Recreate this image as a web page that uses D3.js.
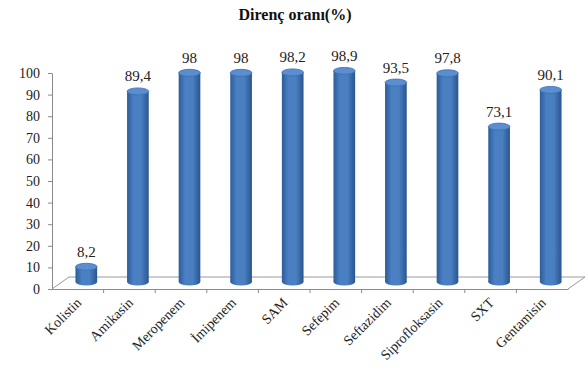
<!DOCTYPE html>
<html>
<head>
<meta charset="utf-8">
<script src="https://cdn.jsdelivr.net/npm/d3@7"></script>
<style>
  body { margin: 0; background: #fff; }
  svg text { font-family: "Liberation Serif", "Times New Roman", serif !important; }
</style>
</head>
<body>
<svg id="chart"></svg>
<script>
const categories = ['Kolistin', 'Amikasin', 'Meropenem', 'İmipenem', 'SAM', 'Sefepim', 'Seftazidim', 'Siprofloksasin', 'SXT', 'Gentamisin'];
const values = [8.2, 89.4, 98, 98, 98.2, 98.9, 93.5, 97.8, 73.1, 90.1];
const valueLabels = ['8,2', '89,4', '98', '98', '98,2', '98,9', '93,5', '97,8', '73,1', '90,1'];
const yTicks = [0, 10, 20, 30, 40, 50, 60, 70, 80, 90, 100];
const title = 'Direnç oranı(%)';

const width = 588, height = 378;
const depth = {dx: 17, dy: -12};

const svg = d3.select('#chart')
    .attr('width', width)
    .attr('height', height);

const xscale = d3.scaleBand()
    .domain(categories)
    .range([52, 568])
    .padding(0);

const yscale = d3.scaleLinear()
    .domain([0, 100])
    .range([289, 73]);

// gradient for the cylinders
const defs = svg.append('defs');
const grad = defs.append('linearGradient')
    .attr('id', 'cyl')
    .attr('x1', '0%').attr('x2', '100%')
    .attr('y1', '0%').attr('y2', '0%');
grad.append('stop').attr('offset', '0%').attr('stop-color', '#2d5c98');
grad.append('stop').attr('offset', '30%').attr('stop-color', '#4a80c4');
grad.append('stop').attr('offset', '65%').attr('stop-color', '#4a7fc0');
grad.append('stop').attr('offset', '100%').attr('stop-color', '#28568f');

// title
svg.append('text')
    .attr('x', 295)
    .attr('y', 20)
    .attr('text-anchor', 'middle')
    .style('font-size', '16px')
    .style('font-weight', 'bold')
    .attr('fill', '#111')
    .text(title);

// floor
const x0 = xscale.range()[0], x1 = xscale.range()[1], y0 = yscale(0);
svg.append('path')
    .attr('d', `M${x0},${y0} L${x0 + depth.dx},${y0 + depth.dy} L${x1 + depth.dx},${y0 + depth.dy} L${x1},${y0}`)
    .attr('fill', 'none')
    .attr('stroke', '#9a9a9a')
    .attr('stroke-width', 1);

// y axis
const yaxis = d3.axisLeft(yscale)
    .tickValues(yTicks)
    .tickSize(4)
    .tickSizeOuter(0);
const yg = svg.append('g')
    .attr('transform', `translate(${x0},0)`)
    .call(yaxis);
yg.select('.domain').attr('stroke', '#8a8a8a');
yg.selectAll('.tick line').attr('stroke', '#8a8a8a');
yg.selectAll('.tick text')
    .attr('x', -12)
    .style('font-size', '14px')
    .attr('fill', '#222');

// x axis
const xaxis = d3.axisBottom(xscale)
    .tickSize(0)
    .tickSizeOuter(0);
const xg = svg.append('g')
    .attr('transform', `translate(0,${y0})`)
    .call(xaxis);
xg.select('.domain').attr('stroke', '#8a8a8a');
xg.selectAll('.tick text')
    .style('font-size', '14px')
    .attr('fill', '#222')
    .attr('text-anchor', 'end')
    .attr('transform', 'translate(1,11) rotate(-45)')
    .attr('dy', '0.35em')
    .attr('y', 0);

// boundary ticks between categories
svg.append('g').selectAll('line')
    .data(categories.slice(1))
    .join('line')
    .attr('x1', d => xscale(d))
    .attr('x2', d => xscale(d))
    .attr('y1', y0)
    .attr('y2', y0 + 4)
    .attr('stroke', '#8a8a8a');

// cylinders
const bw = xscale.bandwidth() * 0.42;
const rx = bw / 2, ry = 3.5;
const cx = d => xscale(d) + xscale.bandwidth() / 2 + depth.dx / 2;
const base = y0 - 7;
const topY = v => yscale(v) - 4.5;

const bars = svg.append('g').selectAll('g')
    .data(categories.map((c, i) => ({c: c, v: values[i], l: valueLabels[i]})))
    .join('g');

bars.append('ellipse')
    .attr('cx', d => cx(d.c))
    .attr('cy', base)
    .attr('rx', rx)
    .attr('ry', ry)
    .attr('fill', 'url(#cyl)');

bars.append('rect')
    .attr('x', d => cx(d.c) - rx)
    .attr('y', d => topY(d.v))
    .attr('width', bw)
    .attr('height', d => base - topY(d.v))
    .attr('fill', 'url(#cyl)');

bars.append('ellipse')
    .attr('cx', d => cx(d.c))
    .attr('cy', d => topY(d.v))
    .attr('rx', rx)
    .attr('ry', ry)
    .attr('fill', '#5a8ed0')
    .attr('stroke', '#3c6dac')
    .attr('stroke-width', 0.8);

bars.append('text')
    .attr('x', d => cx(d.c))
    .attr('y', d => topY(d.v) - 10)
    .attr('text-anchor', 'middle')
    .style('font-size', '15px')
    .attr('fill', '#222')
    .text(d => d.l);
</script>
</body>
</html>
